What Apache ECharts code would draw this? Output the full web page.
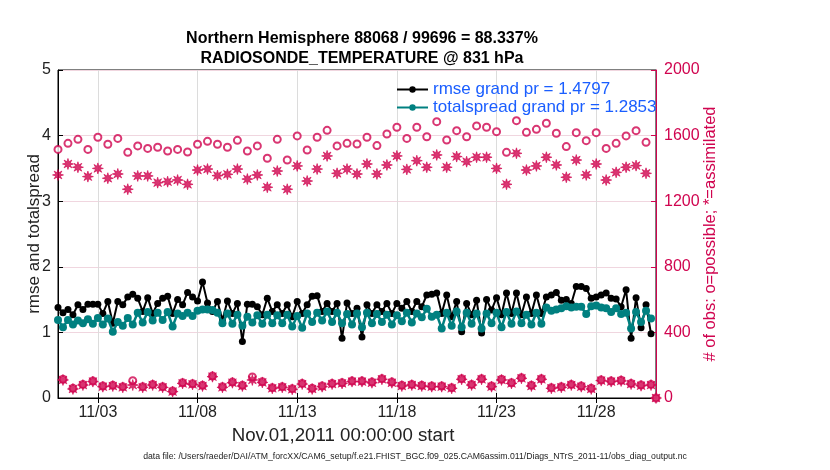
<!DOCTYPE html>
<html>
<head>
<meta charset="utf-8">
<script src="https://cdn.jsdelivr.net/npm/echarts@6/dist/echarts.min.js"></script>
<style>
  html, body { margin: 0; padding: 0; background: #fff; }
  #main { width: 830px; height: 470px; }
</style>
</head>
<body>
<div id="main"></div>
<script>
// rmse / totalspread every 6 hours, Nov 1 00Z .. Nov 30 18Z
var rmse = [
  1.38, 1.30, 1.35, 1.27, 1.42, 1.35, 1.43, 1.43, 1.43, 1.29,
  1.47, 1.14, 1.47, 1.42, 1.54, 1.58, 1.52, 1.32, 1.53, 1.29,
  1.44, 1.52, 1.55, 1.29, 1.50, 1.42, 1.61, 1.54, 1.48, 1.77,
  1.45, 1.32, 1.47, 1.19, 1.48, 1.29, 1.44, 0.86, 1.43, 1.43,
  1.39, 1.27, 1.52, 1.32, 1.42, 1.29, 1.42, 1.24, 1.47, 1.29,
  1.42, 1.55, 1.56, 1.32, 1.44, 1.32, 1.44, 0.91, 1.45, 1.29,
  1.37, 0.93, 1.42, 1.29, 1.42, 1.32, 1.44, 1.29, 1.44, 1.37,
  1.47, 1.32, 1.47, 1.39, 1.57, 1.58, 1.60, 1.29, 1.57, 1.24,
  1.47, 1.01, 1.44, 1.27, 1.49, 0.99, 1.50, 1.34, 1.53, 1.27,
  1.60, 1.29, 1.60, 1.27, 1.54, 1.29, 1.57, 1.29, 1.54, 1.57,
  1.61, 1.49, 1.50, 1.44, 1.70, 1.70, 1.67, 1.52, 1.54, 1.57,
  1.60, 1.52, 1.51, 1.39, 1.65, 0.91, 1.53, 1.07, 1.42, 0.98
];
var spread = [
  1.19, 1.08, 1.19, 1.12, 1.18, 1.14, 1.20, 1.13, 1.22, 1.12,
  1.21, 1.01, 1.16, 1.10, 1.22, 1.12, 1.30, 1.15, 1.31, 1.18,
  1.30, 1.19, 1.31, 1.09, 1.29, 1.25, 1.30, 1.25, 1.33, 1.35,
  1.35, 1.34, 1.30, 1.14, 1.29, 1.13, 1.27, 1.10, 1.24, 1.15,
  1.26, 1.13, 1.27, 1.14, 1.26, 1.14, 1.27, 1.09, 1.25, 1.07,
  1.29, 1.16, 1.30, 1.18, 1.32, 1.16, 1.30, 1.14, 1.28, 1.12,
  1.29, 1.08, 1.30, 1.14, 1.28, 1.16, 1.27, 1.12, 1.26, 1.17,
  1.30, 1.15, 1.29, 1.23, 1.36, 1.24, 1.27, 1.06, 1.30, 1.10,
  1.32, 1.08, 1.30, 1.13, 1.29, 1.06, 1.29, 1.14, 1.30, 1.08,
  1.31, 1.13, 1.32, 1.14, 1.27, 1.12, 1.30, 1.13, 1.38, 1.33,
  1.35, 1.37, 1.40, 1.38, 1.39, 1.39, 1.28, 1.40, 1.41, 1.38,
  1.37, 1.31, 1.37, 1.28, 1.30, 1.06, 1.31, 1.16, 1.33, 1.21
];
// obs counts at 00Z/12Z (last one is Dec 1 00Z, empty)
var possibleSyn = [
  1516, 1553, 1577, 1516, 1590, 1547, 1583, 1498, 1537, 1522,
  1529, 1506, 1516, 1500, 1547, 1565, 1547, 1529, 1571, 1506,
  1537, 1462, 1577, 1451, 1598, 1512, 1590, 1632, 1537, 1553,
  1549, 1590, 1539, 1610, 1651, 1583, 1651, 1593, 1685, 1573,
  1630, 1593, 1659, 1651, 1624, 1498, 1691, 1620, 1638, 1675,
  1614, 1533, 1618, 1569, 1618, 1522, 1553, 1598, 1630, 1559, 0
];
var usedSyn = [
  1360, 1427, 1407, 1350, 1400, 1340, 1366, 1273, 1354, 1354,
  1313, 1319, 1329, 1303, 1390, 1396, 1356, 1364, 1396, 1335,
  1360, 1285, 1384, 1273, 1415, 1323, 1396, 1476, 1370, 1396,
  1366, 1427, 1366, 1421, 1476, 1394, 1447, 1407, 1482, 1407,
  1472, 1441, 1468, 1468, 1400, 1303, 1492, 1390, 1415, 1468,
  1421, 1346, 1451, 1360, 1427, 1329, 1376, 1407, 1417, 1370, 0
];
// obs counts at 06Z/18Z
var possibleOff = [
  114, 59, 83, 104, 73, 77, 69, 105, 69, 83,
  69, 43, 93, 87, 77, 134, 69, 97, 77, 128,
  99, 63, 69, 57, 89, 59, 73, 89, 93, 104,
  104, 97, 118, 97, 77, 83, 77, 73, 73, 63,
  118, 83, 118, 73, 114, 93, 124, 77, 118, 63,
  69, 83, 73, 59, 110, 104, 108, 89, 79, 83
];
var usedOff = [
  110, 55, 79, 100, 69, 73, 65, 79, 65, 79,
  65, 39, 89, 83, 73, 130, 65, 93, 73, 110,
  95, 59, 65, 53, 85, 55, 69, 85, 89, 100,
  100, 93, 114, 93, 73, 79, 73, 69, 69, 59,
  114, 79, 114, 69, 110, 89, 120, 73, 114, 59,
  65, 79, 69, 55, 106, 100, 104, 85, 75, 79
];
var dayTicks = [3, 8, 13, 18, 23, 28];

var MAG = '#d0044f';
var TEAL = '#008080';
var STAR = 'path://M5,0L2.03,0.84L3.54,3.54L0.84,2.03L0,5L-0.84,2.03L-3.54,3.54L-2.03,0.84L-5,0L-2.03,-0.84L-3.54,-3.54L-0.84,-2.03L0,-5L0.84,-2.03L3.54,-3.54L2.03,-0.84Z';

function day(k) { return 1 + k * 0.25; }

var rmseData = rmse.map(function (v, k) { return [day(k), v]; });
var spreadData = spread.map(function (v, k) { return [day(k), v]; });
var possData = [], usedData = [];
possibleSyn.forEach(function (v, j) {
  possData.push([day(2 * j), v]);
  usedData.push([day(2 * j), usedSyn[j]]);
  if (j < possibleOff.length) {
    possData.push([day(2 * j + 1), possibleOff[j]]);
    usedData.push([day(2 * j + 1), usedOff[j]]);
  }
});

var chart = echarts.init(document.getElementById('main'), null, { renderer: 'canvas' });

var FONT = 'Liberation Sans';

var option = {
  backgroundColor: '#fff',
  animation: false,
  textStyle: { fontFamily: FONT },
  title: {
    text: 'Northern Hemisphere 88068 / 99696 = 88.337%\nRADIOSONDE_TEMPERATURE @ 831 hPa',
    left: 357,
    textAlign: 'center',
    top: 24,
    textStyle: { fontSize: 16, fontWeight: 'bold', color: '#000', lineHeight: 20, fontFamily: FONT }
  },
  legend: {
    left: 391,
    top: 76,
    orient: 'vertical',
    itemGap: 1,
    itemWidth: 31,
    itemHeight: 8,
    data: ['rmse grand pr = 1.4797', 'totalspread grand pr = 1.2853'],
    textStyle: { color: '#1a5eff', fontSize: 17, fontFamily: FONT }
  },
  grid: { left: 58, top: 70, width: 598, height: 328, show: true, borderColor: '#000', borderWidth: 1 },
  xAxis: [{
    type: 'value',
    min: 1,
    max: 31,
    axisLine: { lineStyle: { color: '#000' } },
    axisTick: { inside: true, length: 5, customValues: dayTicks, lineStyle: { color: '#000' } },
    axisLabel: {
      customValues: dayTicks,
      fontSize: 16,
      color: '#222',
      margin: 7,
      formatter: function (v) { return '11/' + (v < 10 ? '0' : '') + v; }
    },
    splitLine: { show: true, lineStyle: { color: '#dcdcdc' } }
  }, {
    type: 'value',
    min: 1,
    max: 31,
    position: 'top',
    axisLine: { show: false },
    axisTick: { inside: true, length: 5, customValues: dayTicks, lineStyle: { color: '#000' } },
    axisLabel: { show: false },
    splitLine: { show: false }
  }],
  yAxis: [{
    type: 'value',
    min: 0,
    max: 5,
    interval: 1,
    name: 'rmse and totalspread',
    nameLocation: 'middle',
    nameGap: 15,
    nameMoveOverlap: false,
    nameTextStyle: { fontSize: 17, color: '#222' },
    axisLine: { show: true, lineStyle: { color: '#000' } },
    axisTick: { inside: true, length: 5, lineStyle: { color: '#000' } },
    axisLabel: { fontSize: 16, color: '#222', margin: 7 },
    splitLine: { show: false }
  }, {
    type: 'value',
    min: 0,
    max: 2000,
    interval: 400,
    position: 'right',
    name: '# of obs: o=possible; *=assimilated',
    nameLocation: 'middle',
    nameGap: 46,
    nameRotate: 90,
    nameMoveOverlap: false,
    nameTextStyle: { fontSize: 16.5, color: MAG },
    axisLine: { show: true, lineStyle: { color: MAG } },
    axisTick: { inside: true, length: 5, lineStyle: { color: MAG } },
    axisLabel: { fontSize: 16, color: MAG, margin: 8, formatter: function (v) { return String(v); } },
    splitLine: { show: true, lineStyle: { color: '#f0d6df' } }
  }],
  series: [{
    name: 'obs possible',
    type: 'scatter',
    yAxisIndex: 1,
    data: possData,
    symbol: 'emptyCircle',
    symbolSize: 7,
    itemStyle: { color: MAG, borderColor: MAG, borderWidth: 1.8 },
    z: 2
  }, {
    name: 'obs assimilated',
    type: 'scatter',
    yAxisIndex: 1,
    data: usedData,
    symbol: STAR,
    symbolSize: 11,
    itemStyle: { color: MAG, borderColor: MAG, borderWidth: 0.8 },
    z: 2
  }, {
    name: 'rmse grand pr = 1.4797',
    type: 'line',
    data: rmseData,
    symbol: 'circle',
    symbolSize: 7,
    showAllSymbol: true,
    lineStyle: { color: '#000', width: 2 },
    itemStyle: { color: '#000' },
    z: 3
  }, {
    name: 'totalspread grand pr = 1.2853',
    type: 'line',
    data: spreadData,
    symbol: 'circle',
    symbolSize: 8,
    showAllSymbol: true,
    lineStyle: { color: TEAL, width: 2.5 },
    itemStyle: { color: TEAL },
    z: 4
  }],
  graphic: [{
    type: 'text',
    x: 343,
    y: 436,
    style: {
      text: 'Nov.01,2011 00:00:00 start',
      fontSize: 18.7,
      fill: '#222',
      fontFamily: FONT,
      align: 'center',
      verticalAlign: 'middle'
    }
  }, {
    type: 'text',
    left: 'center',
    top: 452,
    style: {
      text: 'data file: /Users/raeder/DAI/ATM_forcXX/CAM6_setup/f.e21.FHIST_BGC.f09_025.CAM6assim.011/Diags_NTrS_2011-11/obs_diag_output.nc',
      fontSize: 8.7,
      fill: '#222',
      fontFamily: FONT
    }
  }]
};

chart.setOption(option);
</script>
</body>
</html>
